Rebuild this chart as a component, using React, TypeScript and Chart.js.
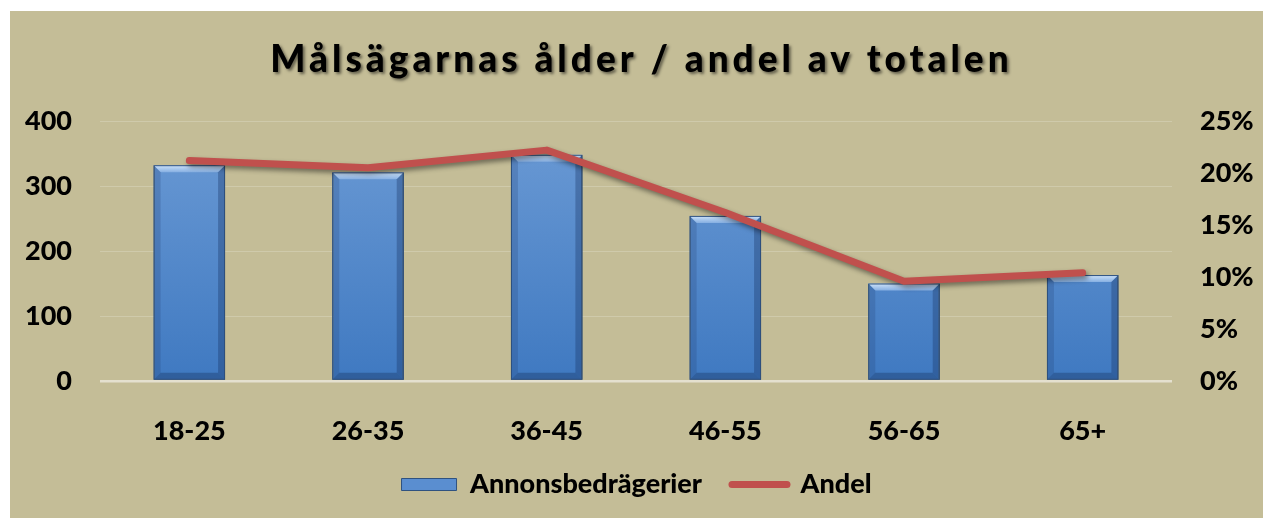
import React, { useEffect, useRef } from 'react';
import { Chart, registerables } from 'chart.js';

Chart.register(...registerables);

const TITLE = 'Målsägarnas ålder / andel av totalen';
const categories = ['18-25', '26-35', '36-45', '46-55', '56-65', '65+'];
const annonsValues = [332, 321, 348, 254, 150, 163];
const andelValues = [21.2, 20.5, 22.2, 16.2, 9.6, 10.4];
const leftTicks = [0, 100, 200, 300, 400];
const rightTicks = [0, 5, 10, 15, 20, 25];
const seriesNames = ['Annonsbedrägerier', 'Andel'];

const FONT = 'Lato';
const WEIGHT = 900;
const BG = '#C4BD97';

const shadowBevelPlugin = {
  id: 'shadowBevel',
  beforeDatasetDraw(chart: any, args: any) {
    const ctx = chart.ctx;
    ctx.save();
    if (args.index === 1) {
      ctx.shadowColor = 'rgba(0,0,0,0.45)';
      ctx.shadowBlur = 5;
      ctx.shadowOffsetX = 2;
      ctx.shadowOffsetY = 3;
    } else {
      ctx.shadowColor = 'rgba(0,0,0,0.35)';
      ctx.shadowBlur = 4;
      ctx.shadowOffsetX = 2;
      ctx.shadowOffsetY = 2;
    }
  },
  afterDatasetDraw(chart: any, args: any) {
    const ctx = chart.ctx;
    ctx.restore();
    if (args.index !== 0) return;
    const meta = chart.getDatasetMeta(0);
    meta.data.forEach((el: any) => {
      const { x, y, width, base } = el.getProps(['x', 'y', 'width', 'base'], true);
      const l = x - width / 2;
      const r = x + width / 2;
      const t = Math.min(y, base);
      const b = Math.max(y, base);
      const bv = 7;
      ctx.save();
      const g = ctx.createLinearGradient(0, t, 0, t + bv);
      g.addColorStop(0, '#CFE4FA');
      g.addColorStop(1, '#86AFE2');
      ctx.fillStyle = g;
      ctx.beginPath();
      ctx.moveTo(l, t);
      ctx.lineTo(r, t);
      ctx.lineTo(r - bv, t + bv);
      ctx.lineTo(l + bv, t + bv);
      ctx.closePath();
      ctx.fill();
      ctx.fillStyle = 'rgba(30,60,110,0.22)';
      ctx.beginPath();
      ctx.moveTo(l, t);
      ctx.lineTo(l + bv, t + bv);
      ctx.lineTo(l + bv, b - bv);
      ctx.lineTo(l, b);
      ctx.closePath();
      ctx.fill();
      ctx.fillStyle = 'rgba(20,45,90,0.32)';
      ctx.beginPath();
      ctx.moveTo(r, t);
      ctx.lineTo(r - bv, t + bv);
      ctx.lineTo(r - bv, b - bv);
      ctx.lineTo(r, b);
      ctx.closePath();
      ctx.fill();
      ctx.fillStyle = 'rgba(20,45,90,0.35)';
      ctx.beginPath();
      ctx.moveTo(l, b);
      ctx.lineTo(l + bv, b - bv);
      ctx.lineTo(r - bv, b - bv);
      ctx.lineTo(r, b);
      ctx.closePath();
      ctx.fill();
      ctx.strokeStyle = '#2F5280';
      ctx.lineWidth = 1;
      ctx.strokeRect(l + 0.5, t + 0.5, width - 1, b - t - 1);
      ctx.restore();
    });
  },
};

const titlePlugin = {
  id: 'shadowTitle',
  afterDraw(chart: any) {
    const ctx = chart.ctx;
    ctx.save();
    ctx.font = `${WEIGHT} 37px ${FONT}`;
    (ctx as any).letterSpacing = '4px';
    ctx.textAlign = 'center';
    ctx.textBaseline = 'middle';
    ctx.shadowColor = 'rgba(0,0,0,0.5)';
    ctx.shadowBlur = 3;
    ctx.shadowOffsetX = 2;
    ctx.shadowOffsetY = 2;
    ctx.fillStyle = '#000';
    ctx.fillText(TITLE, chart.width / 2 + 5, 49);
    ctx.restore();
  },
};

export default function App() {
  const ref = useRef<HTMLCanvasElement>(null);

  useEffect(() => {
    if (!ref.current) return;
    const tickFont = { family: FONT, size: 27, weight: WEIGHT as any };
    const chart = new Chart(ref.current, {
      type: 'bar',
      data: {
        labels: categories,
        datasets: [
          {
            type: 'bar',
            label: seriesNames[0],
            data: annonsValues,
            yAxisID: 'y',
            order: 1,
            barPercentage: 0.4,
            categoryPercentage: 1,
            borderWidth: 1,
            borderColor: '#2F5280',
            backgroundColor: (c: any) => {
              const area = c.chart.chartArea;
              if (!area) return '#4F85C7';
              const g = c.chart.ctx.createLinearGradient(0, area.top, 0, area.bottom);
              g.addColorStop(0, '#6C9BD5');
              g.addColorStop(1, '#3F79C1');
              return g;
            },
          } as any,
          {
            type: 'line',
            label: seriesNames[1],
            data: andelValues,
            yAxisID: 'y1',
            order: 0,
            borderColor: '#C0504D',
            backgroundColor: '#C0504D',
            borderWidth: 7,
            pointRadius: 0,
            pointHoverRadius: 0,
            tension: 0,
            borderCapStyle: 'round',
            borderJoinStyle: 'round',
          } as any,
        ],
      },
      options: {
        responsive: false,
        animation: false,
        layout: { padding: { top: 110, bottom: 10, left: 0, right: 0 } },
        plugins: {
          title: { display: false },
          tooltip: { enabled: false },
          legend: {
            position: 'bottom',
            labels: {
              color: '#000',
              font: tickFont,
              usePointStyle: true,
              pointStyleWidth: 55,
              boxHeight: 12,
              padding: 30,
              sort: (a: any, b: any) => a.datasetIndex - b.datasetIndex,
              generateLabels: (chart: any) => {
                const items = Chart.defaults.plugins.legend.labels.generateLabels(chart);
                return items.map((it: any) => {
                  if (it.datasetIndex === 0) {
                    return { ...it, pointStyle: 'rect', fillStyle: '#5A8ED0', strokeStyle: '#2F5280', lineWidth: 1 };
                  }
                  return { ...it, pointStyle: 'line', fillStyle: '#C0504D', strokeStyle: '#C0504D', lineWidth: 7, lineCap: 'round' };
                });
              },
            },
          },
        },
        scales: {
          x: {
            grid: { display: false },
            border: { display: false },
            ticks: { color: '#000', font: tickFont, padding: 26 },
            afterFit: (s: any) => {
              s.height = 60;
            },
          },
          y: {
            position: 'left',
            min: 0,
            max: 400,
            afterBuildTicks: (s: any) => {
              s.ticks = leftTicks.map((v) => ({ value: v }));
            },
            ticks: { color: '#000', font: tickFont, padding: 28 },
            grid: {
              drawTicks: false,
              color: (c: any) => (c.tick && c.tick.value === 0 ? '#E4E0CF' : 'rgba(255,255,255,0.2)'),
              lineWidth: (c: any) => (c.tick && c.tick.value === 0 ? 2.5 : 1),
            },
            border: { display: false },
            afterFit: (s: any) => {
              s.width = 90;
            },
          },
          y1: {
            position: 'right',
            min: 0,
            max: 25,
            afterBuildTicks: (s: any) => {
              s.ticks = rightTicks.map((v) => ({ value: v }));
            },
            ticks: {
              color: '#000',
              font: tickFont,
              padding: 28,
              callback: (v: any) => `${v}%`,
            },
            grid: { display: false, drawTicks: false },
            border: { display: false },
            afterFit: (s: any) => {
              s.width = 91;
            },
          },
        },
      },
      plugins: [shadowBevelPlugin, titlePlugin],
    });
    return () => chart.destroy();
  }, []);

  return (
    <div
      style={{
        position: 'absolute',
        left: 10,
        top: 11,
        width: 1253,
        height: 507,
        background: BG,
      }}
    >
      <canvas ref={ref} width={1253} height={507} style={{ display: 'block' }} />
    </div>
  );
}
